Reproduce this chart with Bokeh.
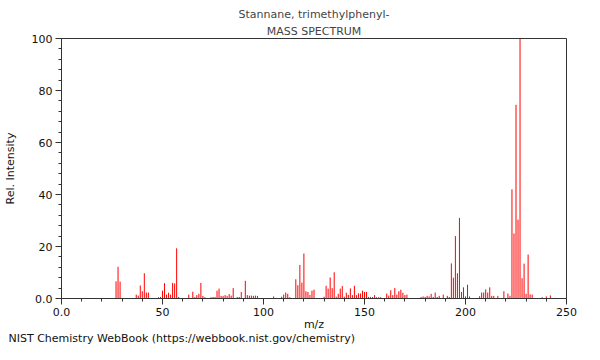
from bokeh.plotting import figure
from bokeh.models import Range1d, Title, FixedTicker, ColumnDataSource
from bokeh.embed import file_html
from bokeh.resources import INLINE

mz = [27, 28, 29, 37, 38, 39, 40, 41, 42, 43, 48, 49, 50, 51, 52, 53, 54, 55, 56, 57, 58,
      63, 65, 66, 67, 68, 69, 70, 71, 74, 75, 76, 77, 78, 79, 80, 81, 82, 83, 84, 85, 87, 88,
      89, 91, 92, 93, 94, 95, 96, 97, 105, 109, 110, 111, 112, 113, 116, 117, 118, 119, 120,
      121, 122, 123, 124, 125, 130, 131, 132, 133, 134, 135, 136, 137, 138, 139, 140, 141,
      142, 143, 144, 145, 146, 147, 148, 149, 150, 151, 152, 153, 154, 155, 156, 157, 158,
      161, 162, 163, 164, 165, 166, 167, 168, 169, 170, 171, 178, 179, 180, 181, 182, 183,
      184, 185, 186, 187, 189, 191, 192, 193, 194, 195, 196, 197, 198, 199, 200, 201, 202,
      207, 208, 209, 210, 211, 212, 213, 214, 216, 219, 221, 222, 223, 224, 225, 226, 227,
      228, 229, 230, 231, 232, 233, 238, 240, 242]
intensity = [6.6, 12.2, 6.5, 1.5, 1.1, 5.0, 2.8, 9.7, 2.3, 2.3, 0.5, 0.6, 3.0, 5.9, 1.5, 2.2,
             1.5, 6.0, 5.8, 19.3, 0.6,
             1.5, 2.6, 0.6, 1.3, 1.8, 6.0, 1.0, 0.5, 0.5, 0.6, 0.6, 3.0, 3.8, 1.0, 1.0, 1.3,
             1.0, 1.7, 1.1, 4.0, 0.6, 0.6,
             2.5, 6.8, 1.3, 1.1, 1.1, 1.0, 1.1, 1.0, 0.8, 0.7, 1.5, 2.3, 1.8, 0.5, 7.4, 5.1,
             12.9, 6.1, 17.3,
             2.8, 2.5, 1.4, 3.0, 3.4, 0.7, 4.9, 3.8, 8.1, 4.0, 10.1, 0.7, 1.8, 3.8, 4.8, 0.7,
             2.2,
             1.4, 3.9, 1.3, 4.9, 1.3, 2.0, 1.9, 3.0, 2.5, 2.5, 0.6, 0.6, 0.6, 1.3, 0.5, 0.5,
             0.5,
             1.9, 1.1, 3.2, 1.3, 4.0, 1.5, 2.8, 3.4, 2.2, 1.3, 1.5, 0.6, 0.8, 0.6, 1.0, 0.8,
             1.8,
             0.6, 2.3, 0.6, 1.0, 1.5, 1.0, 0.6, 13.5, 8.0, 24.0, 9.7, 31.0, 2.5, 4.3, 0.8, 5.3,
             0.8,
             0.9, 2.3, 2.3, 3.5, 2.3, 4.3, 1.0, 1.0, 1.0, 2.8, 1.9, 1.0, 42.0, 25.0, 74.5, 30.3,
             100.0,
             7.8, 13.4, 1.8, 16.9, 1.6, 1.5, 0.5, 0.8, 1.2]

x_ticks = [0, 50, 100, 150, 200, 250]
x_tick_labels = ["0.0", "50", "100", "150", "200", "250"]
y_ticks = [0, 20, 40, 60, 80, 100]
y_tick_labels = ["0.0", "20", "40", "60", "80", "100"]

title_text = "Stannane, trimethylphenyl-"
subtitle_text = "MASS SPECTRUM"
footer_text = "NIST Chemistry WebBook (https://webbook.nist.gov/chemistry)"

FONT = "DejaVu Sans"

src = ColumnDataSource(data=dict(mz=mz, intensity=intensity, base=[0.0] * len(mz)))

p = figure(frame_width=505, frame_height=260, output_backend="svg", toolbar_location=None,
           x_range=Range1d(0, 250), y_range=Range1d(0, 100),
           min_border_left=53, min_border_right=26, min_border_top=38, min_border_bottom=46,
           background_fill_color="white", border_fill_color="white")

p.title.text = title_text
p.title.align = "center"
p.title.text_font = FONT
p.title.text_font_size = "11px"
p.title.text_font_style = "normal"
p.title.standoff = 2
p.add_layout(Title(text=subtitle_text, align="center", text_font=FONT, text_font_size="11px",
                   text_font_style="normal", standoff=2), "above")

p.segment(x0="mz", y0="base", x1="mz", y1="intensity", source=src,
          line_color="#ff0000", line_width=1)

p.xgrid.visible = False
p.ygrid.visible = False
p.outline_line_color = "#333333"
p.outline_line_width = 1

p.xaxis.ticker = FixedTicker(ticks=x_ticks, minor_ticks=list(range(0, 251, 10)))
p.yaxis.ticker = FixedTicker(ticks=y_ticks, minor_ticks=list(range(0, 101, 4)))
p.xaxis.major_label_overrides = {t: l for t, l in zip(x_ticks, x_tick_labels)}
p.yaxis.major_label_overrides = {t: l for t, l in zip(y_ticks, y_tick_labels)}

for ax in (p.xaxis[0], p.yaxis[0]):
    ax.axis_line_color = "#333333"
    ax.major_tick_line_color = "#333333"
    ax.minor_tick_line_color = "#333333"
    ax.major_tick_out = 6
    ax.major_tick_in = 0
    ax.minor_tick_out = 3
    ax.minor_tick_in = 0
    ax.major_label_text_font = FONT
    ax.major_label_text_font_size = "11px"
    ax.major_label_text_color = "#111111"
    ax.axis_label_text_font = FONT
    ax.axis_label_text_font_size = "11px"
    ax.axis_label_text_font_style = "normal"
    ax.axis_label_text_color = "#111111"

p.xaxis.major_label_standoff = 3
p.yaxis.major_label_standoff = 3
p.xaxis.axis_label = "m/z"
p.yaxis.axis_label = "Rel. Intensity"
p.xaxis.axis_label_standoff = -1
p.yaxis.axis_label_standoff = 12

p.add_layout(Title(text=footer_text, align="left", text_font=FONT, text_font_size="11px",
                   text_font_style="normal", text_color="#111111", standoff=-8, offset=-53),
             "below")

open("out.html", "w").write(file_html(p, INLINE))
